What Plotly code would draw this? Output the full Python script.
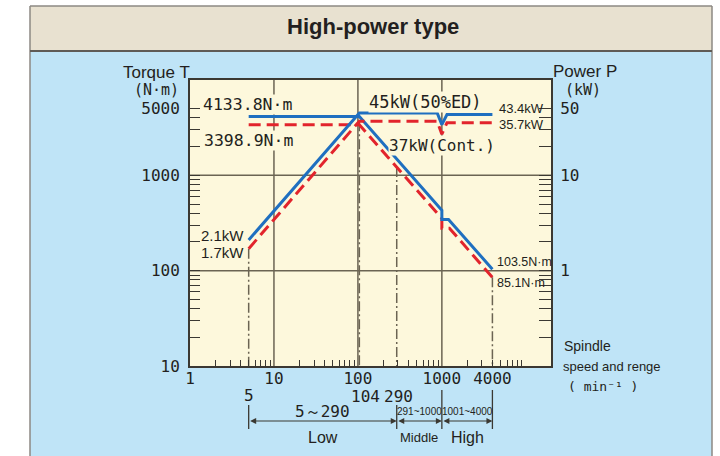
import numpy as np
import plotly.graph_objects as go

# ---------------- data ----------------
speed_t50 = [5, 104, 1000, 1000, 1200, 4000]
torque_50ed = [4133.8, 4133.8, 429.7, 345, 345, 103.5]
speed_tc = [5, 104, 1000, 1000, 1230, 4000]
torque_cont = [3398.9, 3398.9, 353, 279, 279, 85.1]
speed_pw = [5, 104, 880, 1000, 1150, 4000]
power_50ed = [2.1, 45, 45, 34, 43.4, 43.4]
power_cont = [1.7, 37, 37, 27, 35.7, 35.7]

guide_speeds = [5, 104, 290, 4000]
guide_tops = [170, 3700, 1220, 85.1]

x_tickvals = [1, 10, 100, 1000, 4000]
x_ticktext = ["1", "10", "100", "1000", "4000"]
y_tickvals = [10, 100, 1000, 5000]
y_ticktext = ["10", "100", "1000", "5000"]
y2_tickvals = [1, 10, 50]
y2_ticktext = ["1", "10", "50"]

band_edges = [5, 290, 1000, 4000]
band_ranges = ["5～290", "291~1000", "1001~4000"]
band_names = ["Low", "Middle", "High"]

# ---------------- styling ----------------
BLUE = "#1f6fc0"
RED = "#e2242c"
DARK = "#3b3832"
GRID = "#6b6453"
PLOTBG = "#fdf8dc"
PAPER = "#bfe4f7"
TXT = "#231f20"
MONO = "DejaVu Sans Mono"
SANS = "Liberation Sans, Arial"

W, H = 720, 456
L, R, T, B = 190, 551, 80, 366


def px(x):
    return (x - L) / (R - L)


def py(y):
    return (B - y) / (B - T)


fig = go.Figure()

# dash-dot guide lines from the curves down to the axis
for s, top in zip(guide_speeds, guide_tops):
    fig.add_trace(go.Scatter(x=[s, s], y=[top, 10], mode="lines",
                             line=dict(color=GRID, width=1.5, dash="10px,3px,2px,3px"),
                             hoverinfo="skip", showlegend=False))

# continuous (red dashed)
fig.add_trace(go.Scatter(x=speed_tc, y=torque_cont, mode="lines",
                         line=dict(color=RED, width=3, dash="12px,6px"), showlegend=False))
fig.add_trace(go.Scatter(x=speed_pw, y=power_cont, mode="lines", yaxis="y2",
                         line=dict(color=RED, width=3, dash="12px,6px"), showlegend=False))
# 50%ED (blue solid)
fig.add_trace(go.Scatter(x=speed_t50, y=torque_50ed, mode="lines",
                         line=dict(color=BLUE, width=3), showlegend=False))
fig.add_trace(go.Scatter(x=speed_pw, y=power_50ed, mode="lines", yaxis="y2",
                         line=dict(color=BLUE, width=3), showlegend=False))

shapes = []
# background frame pieces
shapes.append(dict(type="rect", xref="paper", yref="paper", x0=px(0), x1=px(30), y0=py(456), y1=py(0),
                   fillcolor="white", line=dict(width=0), layer="below"))
shapes.append(dict(type="rect", xref="paper", yref="paper", x0=px(712), x1=px(720), y0=py(456), y1=py(0),
                   fillcolor="white", line=dict(width=0), layer="below"))
shapes.append(dict(type="rect", xref="paper", yref="paper", x0=px(0), x1=px(720), y0=py(6), y1=py(0),
                   fillcolor="white", line=dict(width=0), layer="below"))
shapes.append(dict(type="rect", xref="paper", yref="paper", x0=px(30), x1=px(712), y0=py(51), y1=py(6),
                   fillcolor="#e8e1d0", line=dict(width=0), layer="below"))
for (x0, y0, x1, y1, c, w) in [(30, 6, 30, 456, "#8c8883", 1.5), (712, 6, 712, 456, "#8c8883", 1.5),
                               (30, 6, 712, 6, "#8c8883", 1.5), (30, 51, 712, 51, "#5f5b56", 2)]:
    shapes.append(dict(type="line", xref="paper", yref="paper", x0=px(x0), x1=px(x1), y0=py(y0), y1=py(y1),
                       line=dict(color=c, width=w)))

# grid lines
for gx in [10, 100, 1000]:
    shapes.append(dict(type="line", xref="x", yref="paper", x0=gx, x1=gx, y0=0, y1=1,
                       line=dict(color=GRID, width=1.5), layer="below"))
for gy in [100, 1000]:
    shapes.append(dict(type="line", xref="paper", yref="y", x0=0, x1=1, y0=gy, y1=gy,
                       line=dict(color=GRID, width=1.5), layer="below"))

# dimension lines below the axis
for i, e in enumerate(band_edges):
    top = 390 if e >= 1000 else 405
    shapes.append(dict(type="line", xref="x", yref="paper", x0=e, x1=e, y0=py(top), y1=py(429),
                       line=dict(color=DARK, width=1.3)))

ann = []


def text(x, y, s, size=16, family=MONO, xanchor="center", bg=None, color=TXT):
    d = dict(x=px(x), y=py(y), xref="paper", yref="paper", text=s, showarrow=False,
             xanchor=xanchor, yanchor="middle", font=dict(family=family, size=size, color=color))
    if bg:
        d.update(bgcolor=bg, borderpad=0)
    ann.append(d)


text(373, 27, "<b>High-power type</b>", size=22, family=SANS)
text(156, 72, "Torque T", size=17, family=SANS)
text(156, 90, "(N·m)", size=15)
text(585, 71, "Power P", size=17, family=SANS)
text(583, 90, "(kW)", size=15)

text(247, 104, "4133.8N·m", size=16.5, bg=PLOTBG)
text(248, 140, "3398.9N·m", size=16.5, bg=PLOTBG)
text(425, 102, "45kW(50%ED)", size=17, bg=PLOTBG)
text(442, 145, "37kW(Cont.)", size=16, bg=PLOTBG)
text(497, 108, "43.4kW", size=13, family=SANS, xanchor="left")
text(497, 125, "35.7kW", size=13, family=SANS, xanchor="left")
text(246, 235, "2.1kW", size=15, family=SANS, xanchor="right")
text(246, 252, "1.7kW", size=15, family=SANS, xanchor="right")
text(495, 262, "103.5N·m", size=12.5, family=SANS, xanchor="left")
text(495, 283, "85.1N·m", size=12.5, family=SANS, xanchor="left")

text(562, 346, "Spindle", size=14, family=SANS, xanchor="left")
text(561, 366, "speed and renge", size=13, family=SANS, xanchor="left")
text(566, 386, "( min⁻¹ )", size=13, family=MONO, xanchor="left")

text(249, 395, "5", size=16)
text(365, 396, "104", size=16)
text(398, 396, "290", size=16)

# range bands: labels and double arrows
for i in range(3):
    a, b = band_edges[i], band_edges[i + 1]
    cx = L + (np.log10(a) + np.log10(b)) / 2 * (R - L) / 4.3
    if i == 0:
        text(cx, 411, band_ranges[i], size=16)
        text(cx, 437, band_names[i], size=16, family=SANS)
    else:
        text(cx, 411, band_ranges[i], size=10, family=SANS)
        text(cx, 437, band_names[i], size=13 if i == 1 else 16, family=SANS)
    ann.append(dict(x=np.log10(b), y=py(421), xref="x", yref="paper",
                    ax=np.log10(a), ay=0, axref="x", ayref="pixel", text="",
                    showarrow=True, arrowhead=2, startarrowhead=2, arrowside="end+start",
                    arrowsize=1, startarrowsize=1, arrowwidth=1.2, arrowcolor=DARK,
                    standoff=0, startstandoff=0))

x_minor = [d * 10 ** k for k in range(4) for d in range(2, 10)]
y_minor = [d * 10 ** k for k in (1, 2) for d in range(2, 10)] + [2000, 3000, 4000]
y2_minor = [v / 100 for v in y_minor]

tickfont = dict(family=MONO, size=16, color=TXT)

fig.update_layout(
    width=W, height=H,
    margin=dict(l=L, r=W - R, t=T, b=H - B),
    paper_bgcolor=PAPER, plot_bgcolor=PLOTBG,
    showlegend=False,
    shapes=shapes, annotations=ann,
    xaxis=dict(type="log", range=[0, 4.3], showgrid=False, zeroline=False,
               showline=True, linecolor=DARK, linewidth=2, mirror=True,
               tickvals=x_tickvals, ticktext=x_ticktext, ticks="", tickfont=tickfont,
               ticklabelstandoff=-3,
               minor=dict(tickvals=x_minor, ticks="inside", ticklen=6, tickcolor=DARK,
                          tickwidth=1, showgrid=False)),
    yaxis=dict(type="log", range=[1, 4], showgrid=False, zeroline=False,
               showline=True, linecolor=DARK, linewidth=2,
               tickvals=y_tickvals, ticktext=y_ticktext, ticks="inside", ticklen=10,
               tickcolor=DARK, tickwidth=1, tickfont=tickfont, ticklabelstandoff=5,
               minor=dict(tickvals=y_minor, ticks="inside", ticklen=10, tickcolor=DARK,
                          tickwidth=1, showgrid=False)),
    yaxis2=dict(type="log", range=[-1, 2], overlaying="y", side="right", showgrid=False,
                zeroline=False, showline=True, linecolor=DARK, linewidth=2,
                tickvals=y2_tickvals, ticktext=y2_ticktext, ticks="inside", ticklen=12,
                tickcolor=DARK, tickwidth=1, tickfont=tickfont, ticklabelstandoff=4,
                minor=dict(tickvals=y2_minor, ticks="inside", ticklen=12, tickcolor=DARK,
                           tickwidth=1, showgrid=False)),
)

fig.write_html("out.html", config={"displayModeBar": False},
               post_script="document.body.style.margin='0';document.body.style.overflow='hidden';")
